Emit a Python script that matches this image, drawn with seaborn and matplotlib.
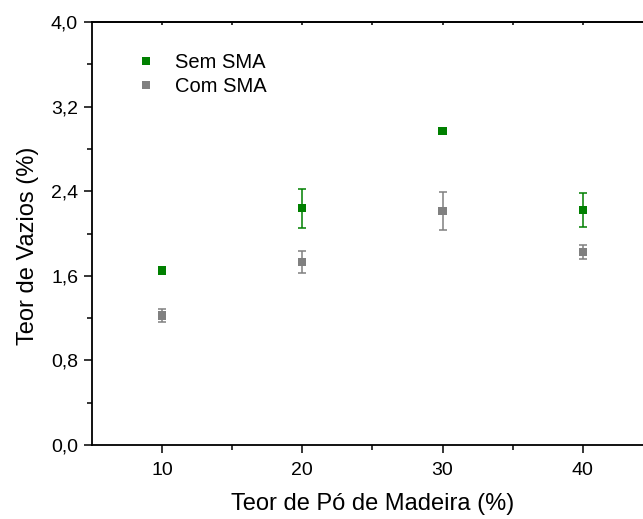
import numpy as np
import pandas as pd
import matplotlib
matplotlib.use("Agg")
import matplotlib.pyplot as plt
import seaborn as sns

# Data
x_vals = [10, 20, 30, 40]
sem_sma = [1.65, 2.24, 2.97, 2.22]
sem_err = [0.02, 0.185, 0.02, 0.16]
com_sma = [1.225, 1.73, 2.21, 1.825]
com_err = [0.065, 0.10, 0.18, 0.065]
series_names = ["Sem SMA", "Com SMA"]
colors = {"Sem SMA": "#008000", "Com SMA": "#808080"}
y_ticks = [0.0, 0.8, 1.6, 2.4, 3.2, 4.0]
y_tick_labels = ["0,0", "0,8", "1,6", "2,4", "3,2", "4,0"]
x_ticks = [10, 20, 30, 40]

df = pd.DataFrame({
    "x": x_vals * 2,
    "y": sem_sma + com_sma,
    "err": sem_err + com_err,
    "serie": [series_names[0]] * 4 + [series_names[1]] * 4,
})

sns.set_style("ticks")
plt.rcParams["font.family"] = ["Liberation Sans", "DejaVu Sans"]
plt.rcParams["text.color"] = "black"
plt.rcParams["axes.labelcolor"] = "black"
plt.rcParams["xtick.color"] = "black"
plt.rcParams["ytick.color"] = "black"

W, H = 643, 519
fig = plt.figure(figsize=(W / 100, H / 100), dpi=100)
left, right, top, bottom = 92, 652.8, 22, 445
ax = fig.add_axes([left / W, (H - bottom) / H, (right - left) / W, (bottom - top) / H])

for name in series_names:
    sub = df[df["serie"] == name]
    ax.errorbar(sub["x"], sub["y"], yerr=sub["err"], fmt="none",
                ecolor=colors[name], elinewidth=1.1, capsize=2.6, capthick=1.1, zorder=2)

sns.scatterplot(data=df, x="x", y="y", hue="serie", palette=colors, marker="s",
                s=34, edgecolor="none", linewidth=0, ax=ax, zorder=3, legend=True)

ax.set_xlim(5, 45)
ax.set_ylim(0, 4.0)
ax.set_xticks(x_ticks)
ax.set_xticks([15, 25, 35], minor=True)
ax.set_yticks(y_ticks)
ax.set_yticklabels(y_tick_labels)
ax.set_yticks([0.4, 1.2, 2.0, 2.8, 3.6], minor=True)

ax.tick_params(axis="both", which="major", direction="out", length=6, width=1.1,
               labelsize=14, colors="black", top=False)
ax.tick_params(axis="x", which="major", pad=6)
ax.tick_params(axis="y", which="major", pad=4)
ax.tick_params(axis="both", which="minor", direction="out", length=3.5, width=1.1, top=False)

# small inward ticks on the top frame
sec = ax.secondary_xaxis("top")
sec.set_xticks(x_ticks + [15, 25, 35])
sec.tick_params(direction="in", length=2, width=1.1, labeltop=False)
sec.spines["top"].set_linewidth(1.3)

for sp in ["left", "bottom", "top", "right"]:
    ax.spines[sp].set_visible(True)
    ax.spines[sp].set_linewidth(1.3)
    ax.spines[sp].set_color("black")

ax.set_xlabel("Teor de Pó de Madeira (%)", fontsize=17, labelpad=10)
ax.set_ylabel("Teor de Vazios (%)", fontsize=17)
ax.yaxis.set_label_coords(-0.094, 0.47)

handles, labels = ax.get_legend_handles_labels()
leg = ax.legend(handles=handles, labels=labels, loc="upper left",
                bbox_to_anchor=(0.028, 0.97), frameon=False, fontsize=14.5,
                handletextpad=0.45, labelspacing=0.25, markerscale=1.0)

fig.savefig("out.png", dpi=100)
